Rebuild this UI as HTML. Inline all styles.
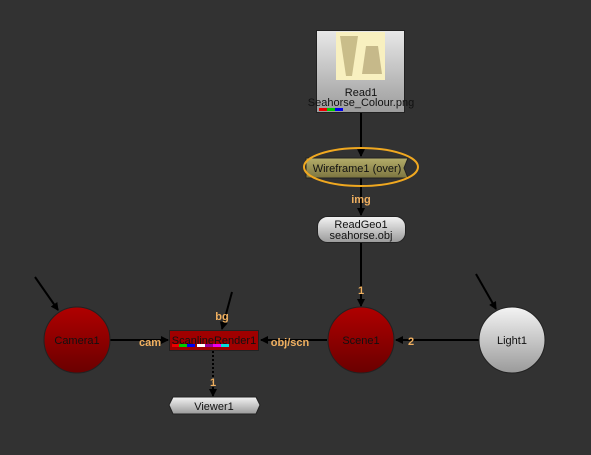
<!DOCTYPE html>
<html><head><style>body{margin:0;background:#323232}svg{display:block}</style></head><body>
<svg width="591" height="455" viewBox="0 0 591 455" xmlns="http://www.w3.org/2000/svg" font-family="Liberation Sans, sans-serif">
<defs>
<marker id="a" markerWidth="8" markerHeight="8" refX="7" refY="4" orient="auto" markerUnits="userSpaceOnUse"><path d="M0,0 L8,4 L0,8 z" fill="#000"/></marker>
<linearGradient id="red" x1="0" y1="0" x2="0" y2="1"><stop offset="0" stop-color="#b00000"/><stop offset="1" stop-color="#6a0000"/></linearGradient>
<linearGradient id="gray" x1="0" y1="0" x2="0" y2="1"><stop offset="0" stop-color="#f4f4f4"/><stop offset="1" stop-color="#9a9a9a"/></linearGradient>
<linearGradient id="box" x1="0" y1="0" x2="0" y2="1"><stop offset="0" stop-color="#e8e8e8"/><stop offset="1" stop-color="#9c9c9c"/></linearGradient>
<linearGradient id="olive" x1="0" y1="0" x2="0" y2="1"><stop offset="0" stop-color="#b4ad6a"/><stop offset="1" stop-color="#7c7540"/></linearGradient>
</defs>
<rect width="591" height="455" fill="#323232"/>
<!-- connectors -->
<line x1="361" y1="112" x2="361" y2="156" stroke="#000" stroke-width="2" marker-end="url(#a)"/>
<line x1="361" y1="178" x2="361" y2="215" stroke="#000" stroke-width="2" marker-end="url(#a)"/>
<line x1="361" y1="242" x2="361" y2="306" stroke="#000" stroke-width="2" marker-end="url(#a)"/>
<line x1="479" y1="340" x2="396" y2="340" stroke="#000" stroke-width="2" marker-end="url(#a)"/>
<line x1="327" y1="340" x2="261" y2="340" stroke="#000" stroke-width="2" marker-end="url(#a)"/>
<line x1="110" y1="340" x2="168" y2="340" stroke="#000" stroke-width="2" marker-end="url(#a)"/>
<line x1="232" y1="292" x2="222" y2="329" stroke="#000" stroke-width="2" marker-end="url(#a)"/>
<line x1="35" y1="277" x2="58" y2="310" stroke="#000" stroke-width="2" marker-end="url(#a)"/>
<line x1="476" y1="274" x2="496" y2="309" stroke="#000" stroke-width="2" marker-end="url(#a)"/>
<line x1="213" y1="351" x2="213" y2="396" stroke="#000" stroke-width="2" stroke-dasharray="2,2" marker-end="url(#a)"/>
<!-- Read1 -->
<rect x="316.5" y="30.5" width="88" height="82" fill="url(#box)" stroke="#222"/>
<rect x="336" y="32" width="49" height="48" fill="#f8f0c0"/>
<path d="M340,36 L358,36 L352,76 L346,76 z" fill="#c9bd8a"/>
<path d="M366,46 L378,46 L382,74 L362,74 z" fill="#c6b98a"/>
<text x="361" y="96" font-size="11" text-anchor="middle" fill="#111">Read1</text>
<text x="361" y="106" font-size="11" text-anchor="middle" fill="#111">Seahorse_Colour.png</text>
<rect x="319" y="108" width="8" height="3" fill="#e00"/><rect x="327" y="108" width="8" height="3" fill="#0c0"/><rect x="335" y="108" width="8" height="3" fill="#00e"/>
<!-- Wireframe -->
<path d="M306,158 L408,158 L404,168 L408,178 L306,178 z" fill="url(#olive)" stroke="#222"/>
<text x="357" y="172" font-size="11" text-anchor="middle" fill="#111">Wireframe1 (over)</text>
<ellipse cx="361" cy="167" rx="57" ry="19" fill="none" stroke="#f0a820" stroke-width="2"/>
<text x="361" y="203" font-size="11" font-weight="bold" text-anchor="middle" fill="#f0b060">img</text>
<!-- ReadGeo -->
<rect x="317.5" y="216.5" width="88" height="26" rx="10" fill="url(#gray)" stroke="#222"/>
<text x="361" y="228" font-size="11" text-anchor="middle" fill="#111">ReadGeo1</text>
<text x="361" y="239" font-size="11" text-anchor="middle" fill="#111">seahorse.obj</text>
<text x="361" y="294" font-size="11" font-weight="bold" text-anchor="middle" fill="#f0b060">1</text>
<!-- circles -->
<circle cx="361" cy="340" r="33" fill="url(#red)" stroke="#222"/>
<text x="361" y="344" font-size="11" text-anchor="middle" fill="#111">Scene1</text>
<circle cx="512" cy="340" r="33" fill="url(#gray)" stroke="#222"/>
<text x="512" y="344" font-size="11" text-anchor="middle" fill="#111">Light1</text>
<circle cx="77" cy="340" r="33" fill="url(#red)" stroke="#222"/>
<text x="77" y="344" font-size="11" text-anchor="middle" fill="#111">Camera1</text>
<text x="411" y="345" font-size="11" font-weight="bold" text-anchor="middle" fill="#f0b060">2</text>
<!-- ScanlineRender -->
<rect x="169.5" y="330.5" width="89" height="20" fill="#a00000" stroke="#222"/>
<text x="214" y="344" font-size="11" text-anchor="middle" fill="#111">ScanlineRender1</text>
<rect x="172" y="344" width="7" height="3" fill="#e00"/><rect x="179" y="344" width="8" height="3" fill="#0c0"/><rect x="187" y="344" width="8" height="3" fill="#00e"/><rect x="197" y="344" width="8" height="3" fill="#fff"/><rect x="205" y="344" width="8" height="3" fill="#909"/><rect x="213" y="344" width="8" height="3" fill="#e0e"/><rect x="221" y="344" width="8" height="3" fill="#0dd"/>
<text x="150" y="346" font-size="11" font-weight="bold" text-anchor="middle" fill="#f0b060">cam</text>
<text x="222" y="320" font-size="11" font-weight="bold" text-anchor="middle" fill="#f0b060">bg</text>
<text x="290" y="346" font-size="11" font-weight="bold" text-anchor="middle" fill="#f0b060">obj/scn</text>
<text x="213" y="386" font-size="11" font-weight="bold" text-anchor="middle" fill="#f0b060">1</text>
<!-- Viewer -->
<path d="M173,397 L256,397 L260,405 L256,414 L173,414 L169,405 z" fill="url(#gray)" stroke="#222"/>
<text x="214" y="410" font-size="11" text-anchor="middle" fill="#111">Viewer1</text>
</svg>
</body></html>
